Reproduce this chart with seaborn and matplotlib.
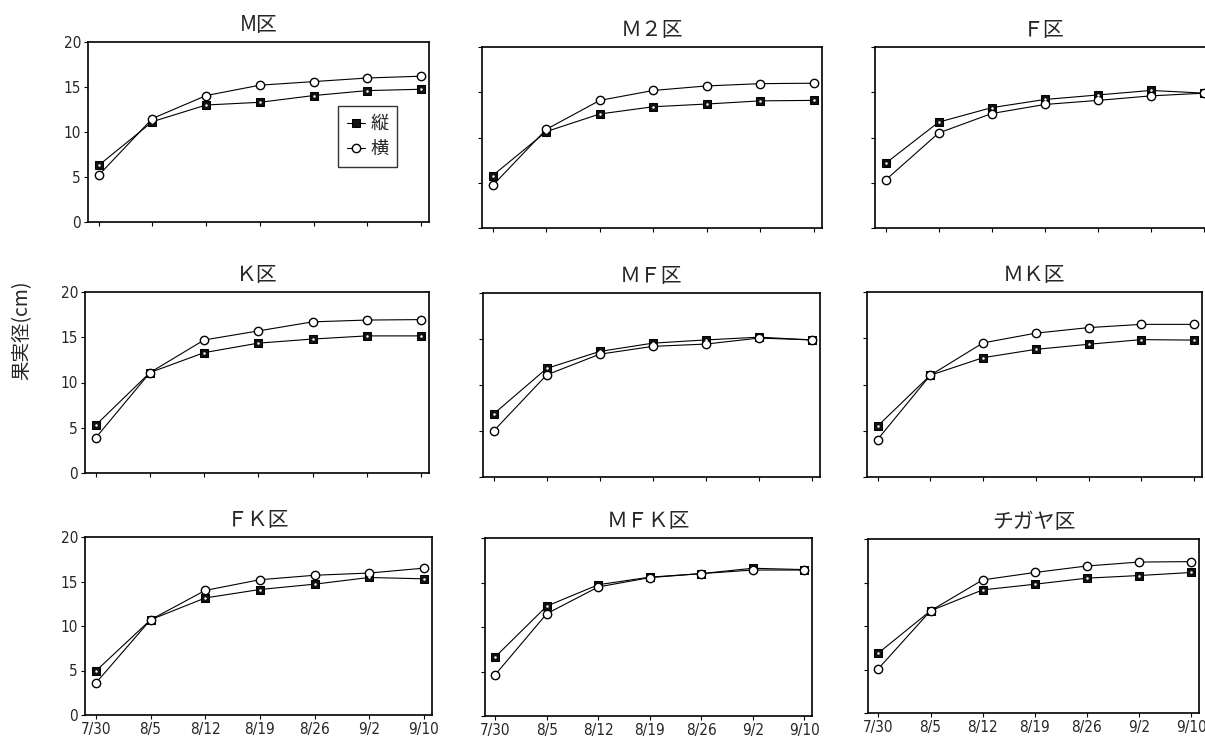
import matplotlib
matplotlib.use("Agg")
import matplotlib.pyplot as plt
from matplotlib import font_manager
import seaborn as sns
import pandas as pd
import numpy as np

# data
dates = ['7/30', '8/5', '8/12', '8/19', '8/26', '9/2', '9/10']
plots = ['M区', 'Ｍ２区', 'Ｆ区', 'Ｋ区', 'ＭＦ区', 'ＭＫ区', 'ＦＫ区', 'ＭＦＫ区', 'チガヤ区']

tate = {  # 縦
    'M区':     [6.3, 11.15, 13.0, 13.3, 14.05, 14.6, 14.75],
    'Ｍ２区':  [5.8, 10.65, 12.6, 13.4, 13.7, 14.05, 14.1],
    'Ｆ区':    [7.15, 11.7, 13.3, 14.2, 14.7, 15.2, 14.9],
    'Ｋ区':    [5.3, 11.1, 13.3, 14.35, 14.8, 15.15, 15.15],
    'ＭＦ区':  [6.85, 11.8, 13.65, 14.55, 14.9, 15.2, 14.9],
    'ＭＫ区':  [5.5, 11.0, 12.9, 13.8, 14.35, 14.85, 14.8],
    'ＦＫ区':  [4.95, 10.7, 13.15, 14.1, 14.7, 15.45, 15.3],
    'ＭＦＫ区': [6.65, 12.35, 14.75, 15.6, 16.0, 16.6, 16.45],
    'チガヤ区': [6.9, 11.75, 14.15, 14.8, 15.5, 15.8, 16.15],
}
yoko = {  # 横
    'M区':     [5.2, 11.5, 14.05, 15.2, 15.6, 16.0, 16.2],
    'Ｍ２区':  [4.7, 10.9, 14.1, 15.2, 15.7, 15.95, 16.0],
    'Ｆ区':    [5.3, 10.5, 12.65, 13.65, 14.1, 14.6, 14.9],
    'Ｋ区':    [3.9, 11.1, 14.7, 15.7, 16.7, 16.9, 16.95],
    'ＭＦ区':  [5.0, 11.1, 13.35, 14.2, 14.45, 15.1, 14.9],
    'ＭＫ区':  [4.05, 11.0, 14.5, 15.55, 16.15, 16.5, 16.5],
    'ＦＫ区':  [3.6, 10.7, 14.0, 15.2, 15.7, 15.95, 16.5],
    'ＭＦＫ区': [4.65, 11.5, 14.5, 15.55, 16.0, 16.4, 16.4],
    'チガヤ区': [5.1, 11.75, 15.3, 16.15, 16.9, 17.35, 17.4],
}

rows = []
for p in plots:
    for i, d in enumerate(dates):
        rows.append((p, i, d, '縦', tate[p][i]))
        rows.append((p, i, d, '横', yoko[p][i]))
df = pd.DataFrame(rows, columns=['plot', 'pos', 'date', 'dir', 'value'])

sns.set_theme(style='white')
plt.rcParams['font.family'] = ['Noto Sans CJK JP', 'DejaVu Sans']

# narrow digits for the tick labels, if a condensed face is around
names = {f.name for f in font_manager.fontManager.ttflist}
if 'Liberation Sans Narrow' in names:
    tickprops = dict(family='Liberation Sans Narrow', fontsize=12.5)
else:
    tickprops = dict(family='DejaVu Sans', stretch='condensed', fontsize=11)

W, H = 1205, 742
fig = plt.figure(figsize=(W / 100, H / 100), dpi=100)

# panel boxes in pixels (left, top, right, bottom)
boxes = [(88, 42, 429, 222), (482, 47, 822, 228), (875, 47, 1212, 228),
         (85, 292, 429, 473), (483, 293, 820, 477), (867, 292, 1202, 477),
         (85, 537, 432, 715), (485, 538, 812, 716), (868, 539, 1199, 713)]

for k, p in enumerate(plots):
    l, t, r, b = boxes[k]
    ax = fig.add_axes([l / W, 1 - b / H, (r - l) / W, (b - t) / H])
    sub = df[df['plot'] == p]
    s1 = sub[sub['dir'] == '縦']
    s2 = sub[sub['dir'] == '横']
    sns.lineplot(x=s1['pos'], y=s1['value'], ax=ax, color='black', lw=0.8,
                 marker='s', markersize=5.5, markerfacecolor='#111111',
                 markeredgecolor='black', label='縦')
    sns.lineplot(x=s2['pos'], y=s2['value'], ax=ax, color='black', lw=0.8,
                 marker='o', markersize=6, markerfacecolor='white',
                 markeredgecolor='black', markeredgewidth=1.0, label='横')
    # small white speck inside the squares
    ax.plot(s1['pos'], s1['value'], ls='none', marker='.', ms=1.6, color='white')
    ax.set_xlim(-0.2, 6.15)
    ax.set_ylim(0, 20)
    ax.set_xticks(range(len(dates)))
    ax.set_yticks([0, 5, 10, 15, 20])
    ax.set_xlabel('')
    ax.set_ylabel('')
    ax.set_title(p, fontsize=15, pad=8)
    for sp in ax.spines.values():
        sp.set_color('black')
        sp.set_linewidth(1.2)
    ax.tick_params(direction='out', length=3, width=0.8, color='black',
                   left=True, bottom=True, pad=2)
    if k % 3 == 0:
        ax.set_yticklabels(['0', '5', '10', '15', '20'], **tickprops)
    else:
        ax.set_yticklabels([])
    if k >= 6:
        ax.set_xticklabels(dates, **tickprops)
    else:
        ax.set_xticklabels([])
    if k == 0:
        leg = ax.legend(loc='upper left', bbox_to_anchor=(0.733, 0.645),
                        fontsize=13, frameon=True, fancybox=False,
                        edgecolor='black', handlelength=1.0, handletextpad=0.3,
                        labelspacing=0.4, borderpad=0.5, borderaxespad=0)
        leg.get_frame().set_linewidth(1.0)
    else:
        ax.get_legend().remove()

fig.text(22 / W, 1 - 330 / H, '果実径(cm)', rotation=90, fontsize=14,
         ha='center', va='center')

fig.savefig('out.png', dpi=100)
